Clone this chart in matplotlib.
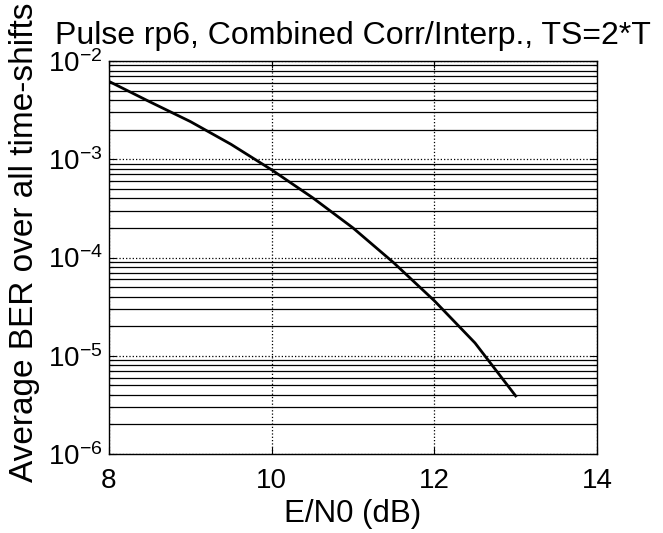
import matplotlib
matplotlib.use("Agg")
import matplotlib.pyplot as plt
from matplotlib.ticker import LogLocator

plt.rcParams['font.family'] = ['Liberation Sans', 'DejaVu Sans']
plt.rcParams['mathtext.fontset'] = 'custom'
plt.rcParams['mathtext.rm'] = 'Liberation Sans'
plt.rcParams['mathtext.it'] = 'Liberation Sans'
plt.rcParams['mathtext.default'] = 'regular'

ebn0_db = [8.0, 8.5, 9.0, 9.5, 10.0, 10.5, 11.0, 11.5, 12.0, 12.5, 13.0]
ber = [6.2e-3, 3.85e-3, 2.42e-3, 1.42e-3, 7.8e-4, 4.08e-4, 2.0e-4, 8.85e-5, 3.63e-5, 1.35e-5, 3.9e-6]
x_ticks = [8, 10, 12, 14]
title = "Pulse rp6, Combined Corr/Interp., TS=2*T"
xlabel = "E/N0 (dB)"
ylabel = "Average BER over all time-shifts"

fig = plt.figure(figsize=(6.63, 5.33), dpi=100)
ax = fig.add_axes([109/663, 1-454/533, (597-109)/663, (454-61)/533])

ax.semilogy(ebn0_db, ber, color='black', lw=2.0)
ax.set_xlim(8, 14)
ax.set_ylim(1e-6, 1e-2)
ax.set_xticks(x_ticks)
ax.yaxis.set_major_locator(LogLocator(base=10, numticks=10))
ax.yaxis.set_minor_locator(LogLocator(base=10, subs=range(2, 10), numticks=50))

ax.grid(which='minor', axis='y', color='black', ls='-', lw=0.9)
ax.grid(which='major', axis='y', color='black', ls=':', lw=0.9)
ax.grid(which='major', axis='x', color='black', ls=':', lw=0.9)

ax.tick_params(which='both', direction='in', top=True, right=True, labelsize=20, width=0.8)
ax.tick_params(which='major', length=5)
ax.tick_params(which='minor', length=3)
ax.tick_params(axis='x', pad=10)
ax.tick_params(axis='y', pad=4.5)
for s in ax.spines.values():
    s.set_linewidth(1.0)
    s.set_color('black')

ax.set_title(title, fontsize=23, pad=12)
ax.set_xlabel(xlabel, fontsize=22.5, labelpad=4)
ax.set_ylabel(ylabel, fontsize=24)
ax.yaxis.set_label_coords(-0.142, 0.54)

fig.savefig("out.png", dpi=100)
